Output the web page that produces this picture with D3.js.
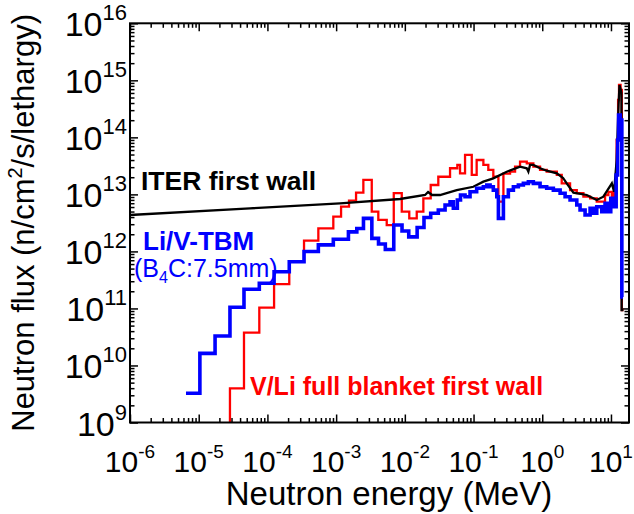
<!DOCTYPE html>
<html><head><meta charset="utf-8">
<script src="https://cdn.jsdelivr.net/npm/d3@7"></script>
<style>body{margin:0;background:#fff}svg{display:block}text{font-family:"Liberation Sans",Arial,sans-serif}</style>
</head><body>
<svg id="c" width="634" height="514"></svg>
<script>
// ---- data ----
const xTickExps = [-6, -5, -4, -3, -2, -1, 0, 1];
const yTickExps = [9, 10, 11, 12, 13, 14, 15, 16];

// ITER first wall (black line)
const iterE = [1.0e-6, 5.58e-5, 1.14e-3, 8.51e-3, 1.97e-2, 2.18e-2, 2.49e-2, 3.25e-2, 5.69e-2, 9.93e-2, 0.139, 0.194, 0.304, 0.475, 0.595, 0.628, 0.664, 0.742, 0.929, 1.16, 1.63, 2.01, 2.27, 2.84, 4.44, 6.21, 7.75, 10.3, 11.1, 12.1, 12.9, 13.3, 13.9, 14.2, 14.3, 15.2];
const iterFlux = [4.35e12, 5.70e12, 6.98e12, 8.30e12, 9.76e12, 1.10e13, 9.76e12, 9.76e12, 1.19e13, 1.36e13, 1.67e13, 1.91e13, 2.50e13, 3.06e13, 2.87e13, 2.50e13, 3.28e13, 3.28e13, 2.87e13, 2.60e13, 2.34e13, 1.94e13, 1.56e13, 1.07e13, 9.76e12, 7.97e12, 9.11e12, 1.56e13, 1.11e13, 4.01e13, 3.69e14, 8.28e14, 6.77e14, 6.0e14, 9.39e10, 9.39e10];

// V/Li full blanket first wall (red histogram): bin edges and bin values
const redEdges = [2.85e-5, 4.56e-5, 7.62e-5, 1.25e-4, 2.08e-4, 3.41e-4, 5.51e-4, 9.10e-4, 1.18e-3, 1.54e-3, 1.95e-3, 2.49e-3, 3.30e-3, 4.11e-3, 5.45e-3, 6.90e-3, 9.02e-3, 1.16e-2, 1.49e-2, 1.86e-2, 2.38e-2, 3.07e-2, 4.55e-2, 5.81e-2, 6.36e-2, 7.52e-2, 9.42e-2, 0.111, 0.139, 0.164, 0.194, 0.230, 0.272, 0.340, 0.402, 0.475, 0.595, 0.742, 0.929, 1.16, 1.63, 1.92, 2.54, 3.18, 3.97, 4.97, 6.21, 8.20, 9.17, 10.3, 11.1, 12.1, 12.7, 13.1, 13.8, 14.4, 15.2];
const redFlux = [3.98e9, 3.76e10, 1.03e11, 2.68e11, 6.55e11, 1.54e12, 2.54e12, 4.06e12, 6.08e12, 7.75e12, 1.07e13, 1.79e13, 4.97e12, 3.56e12, 2.90e12, 1.05e13, 4.97e12, 3.81e12, 4.97e12, 8.54e12, 1.46e13, 2.04e13, 2.87e13, 3.28e13, 2.34e13, 4.91e13, 2.19e13, 4.01e13, 3.28e13, 2.68e13, 2.04e13, 7.45e12, 2.31e13, 2.50e13, 3.06e13, 3.74e13, 3.51e13, 3.06e13, 2.68e13, 2.50e13, 2.19e13, 1.56e13, 1.19e13, 1.05e13, 9.11e12, 8.54e12, 7.45e12, 9.76e12, 1.11e13, 7.97e12, 1.05e13, 8.99e13, 4.52e14, 8.28e14, 6.77e14, 9.39e10];

// Li/V-TBM (B4C 7.5mm) (blue histogram)
const blueEdges = [6.53e-6, 1.04e-5, 1.73e-5, 2.85e-5, 4.56e-5, 7.62e-5, 1.25e-4, 2.08e-4, 3.41e-4, 5.51e-4, 9.10e-4, 1.51e-3, 2.00e-3, 2.50e-3, 3.31e-3, 4.14e-3, 5.20e-3, 6.90e-3, 9.10e-3, 1.14e-2, 1.51e-2, 1.90e-2, 2.38e-2, 3.07e-2, 3.85e-2, 4.55e-2, 5.08e-2, 5.81e-2, 6.46e-2, 7.52e-2, 8.89e-2, 0.111, 0.139, 0.156, 0.174, 0.194, 0.218, 0.230, 0.272, 0.321, 0.380, 0.449, 0.531, 0.628, 0.742, 0.929, 1.16, 1.45, 1.82, 2.15, 2.54, 3.18, 3.55, 4.20, 4.97, 5.55, 6.21, 7.35, 8.20, 9.17, 9.93, 10.8, 11.9, 12.5, 12.9, 13.6, 14.4, 15.0];
const blueFlux = [3.25e9, 1.63e10, 3.29e10, 1.05e11, 2.17e11, 2.76e11, 4.41e11, 6.60e11, 9.97e11, 1.30e12, 1.63e12, 2.20e12, 2.53e12, 3.79e12, 1.69e12, 1.35e12, 1.08e12, 2.90e12, 2.28e12, 1.80e12, 2.63e12, 3.93e12, 4.66e12, 5.32e12, 6.52e12, 7.45e12, 5.70e12, 7.97e12, 9.76e12, 9.11e12, 1.11e13, 1.28e13, 1.36e13, 1.46e13, 1.36e13, 1.19e13, 9.11e12, 3.79e12, 9.11e12, 1.19e13, 1.36e13, 1.46e13, 1.56e13, 1.67e13, 1.56e13, 1.36e13, 1.28e13, 1.19e13, 1.05e13, 9.11e12, 7.97e12, 6.52e12, 5.32e12, 4.35e12, 5.70e12, 4.66e12, 6.08e12, 4.97e12, 6.98e12, 4.97e12, 8.54e12, 6.08e12, 2.19e13, 8.99e13, 2.47e14, 2.02e14, 1.59e11];

// ---- chart ----
const svg = d3.select("#c");
const L = 130, R = 629, T = 23.3, B = 422.5;
const x = d3.scaleLog().domain([1e-6, 18.3]).range([L, R]);
const y = d3.scaleLog().domain([1e9, 1e16]).range([B, T]);

const xMajor = xTickExps.map(e => Math.pow(10, e));
const yMajor = yTickExps.map(e => Math.pow(10, e));
const xMinor = [], yMinor = [];
for (let e = -6; e <= 1; e++) for (let k = 2; k <= 9; k++) { const v = k * Math.pow(10, e); if (v <= x.domain()[1]) xMinor.push(v); }
for (let e = 9; e < 16; e++) for (let k = 2; k <= 9; k++) yMinor.push(k * Math.pow(10, e));

function axis(gen, scale, vals, size, tr) {
  const g = svg.append("g").attr("transform", tr)
    .call(gen(scale).tickValues(vals).tickSize(size).tickFormat(""));
  g.select(".domain").remove();
  g.selectAll(".tick line").attr("stroke", "#000").attr("stroke-width", 1.5);
  return g;
}
// inward ticks on all four sides
axis(d3.axisBottom, x, xMajor, -8, `translate(0,${B})`);
axis(d3.axisBottom, x, xMinor, -4.5, `translate(0,${B})`);
axis(d3.axisTop, x, xMajor, -8, `translate(0,${T})`);
axis(d3.axisTop, x, xMinor, -4.5, `translate(0,${T})`);
axis(d3.axisLeft, y, yMajor, -8, `translate(${L},0)`);
axis(d3.axisLeft, y, yMinor, -4.5, `translate(${L},0)`);
axis(d3.axisRight, y, yMajor, -8, `translate(${R},0)`);
axis(d3.axisRight, y, yMinor, -4.5, `translate(${R},0)`);

// data lines
const stepLine = d3.line().x(d => x(d[0])).y(d => y(d[1])).curve(d3.curveStepAfter);
function histPts(edges, vals, fromBottom) {
  const pts = edges.map((e, i) => [e, vals[Math.min(i, vals.length - 1)]]);
  if (fromBottom) pts.unshift([edges[0], y.domain()[0]]);
  return pts;
}
svg.append("path").attr("d", stepLine(histPts(redEdges, redFlux, true)))
  .attr("fill", "none").attr("stroke", "#ff0000").attr("stroke-width", 2.3);
const line = d3.line().x(d => x(d[0])).y(d => y(d[1]));
svg.append("path").attr("d", line(iterE.map((e, i) => [e, iterFlux[i]])))
  .attr("fill", "none").attr("stroke", "#000").attr("stroke-width", 2.3);
svg.append("path").attr("d", stepLine(histPts(blueEdges, blueFlux, false)))
  .attr("fill", "none").attr("stroke", "#0000ff").attr("stroke-width", 3.6);

// frame
svg.append("rect").attr("x", L).attr("y", T).attr("width", R - L).attr("height", B - T)
  .attr("fill", "none").attr("stroke", "#000").attr("stroke-width", 2);

// tick labels
xTickExps.forEach(e => {
  const t = svg.append("text").attr("x", x(Math.pow(10, e))).attr("y", B + 49)
    .attr("text-anchor", "middle").attr("font-size", 30);
  t.append("tspan").text("10");
  t.append("tspan").attr("font-size", 19).attr("dy", -14).text(e < 0 ? "-" + (-e) : String(e));
});
yTickExps.forEach(e => {
  const t = svg.append("text").attr("x", L - 3).attr("y", y(Math.pow(10, e)) + 13)
    .attr("text-anchor", "end").attr("font-size", 34);
  t.append("tspan").text("10");
  t.append("tspan").attr("font-size", 22).attr("dy", -16).text(String(e));
});

// axis titles
svg.append("text").attr("x", 389).attr("y", 505).attr("text-anchor", "middle")
  .attr("font-size", 33).text("Neutron energy (MeV)");
const yt = svg.append("text").attr("transform", `translate(34,${(T + B) / 2}) rotate(-90)`)
  .attr("text-anchor", "middle").attr("font-size", 31);
yt.append("tspan").text("Neutron flux (n/cm");
yt.append("tspan").attr("font-size", 20).attr("dy", -12).text("2");
yt.append("tspan").attr("dy", 12).text("/s/lethargy)");

// annotations
svg.append("text").attr("x", 141).attr("y", 190).attr("font-size", 26.5).attr("font-weight", "bold")
  .attr("fill", "#000").text("ITER first wall");
svg.append("text").attr("x", 143).attr("y", 250).attr("font-size", 26).attr("font-weight", "bold")
  .attr("fill", "#0000ff").text("Li/V-TBM");
const bc = svg.append("text").attr("x", 134).attr("y", 277).attr("font-size", 25).attr("fill", "#0000ff");
bc.append("tspan").text("(B");
bc.append("tspan").attr("font-size", 16).attr("dy", 6).text("4");
bc.append("tspan").attr("dy", -6).text("C:7.5mm)");
svg.append("text").attr("x", 250).attr("y", 395).attr("font-size", 25).attr("font-weight", "bold")
  .attr("fill", "#ff0000").text("V/Li full blanket first wall");
</script>
</body></html>
